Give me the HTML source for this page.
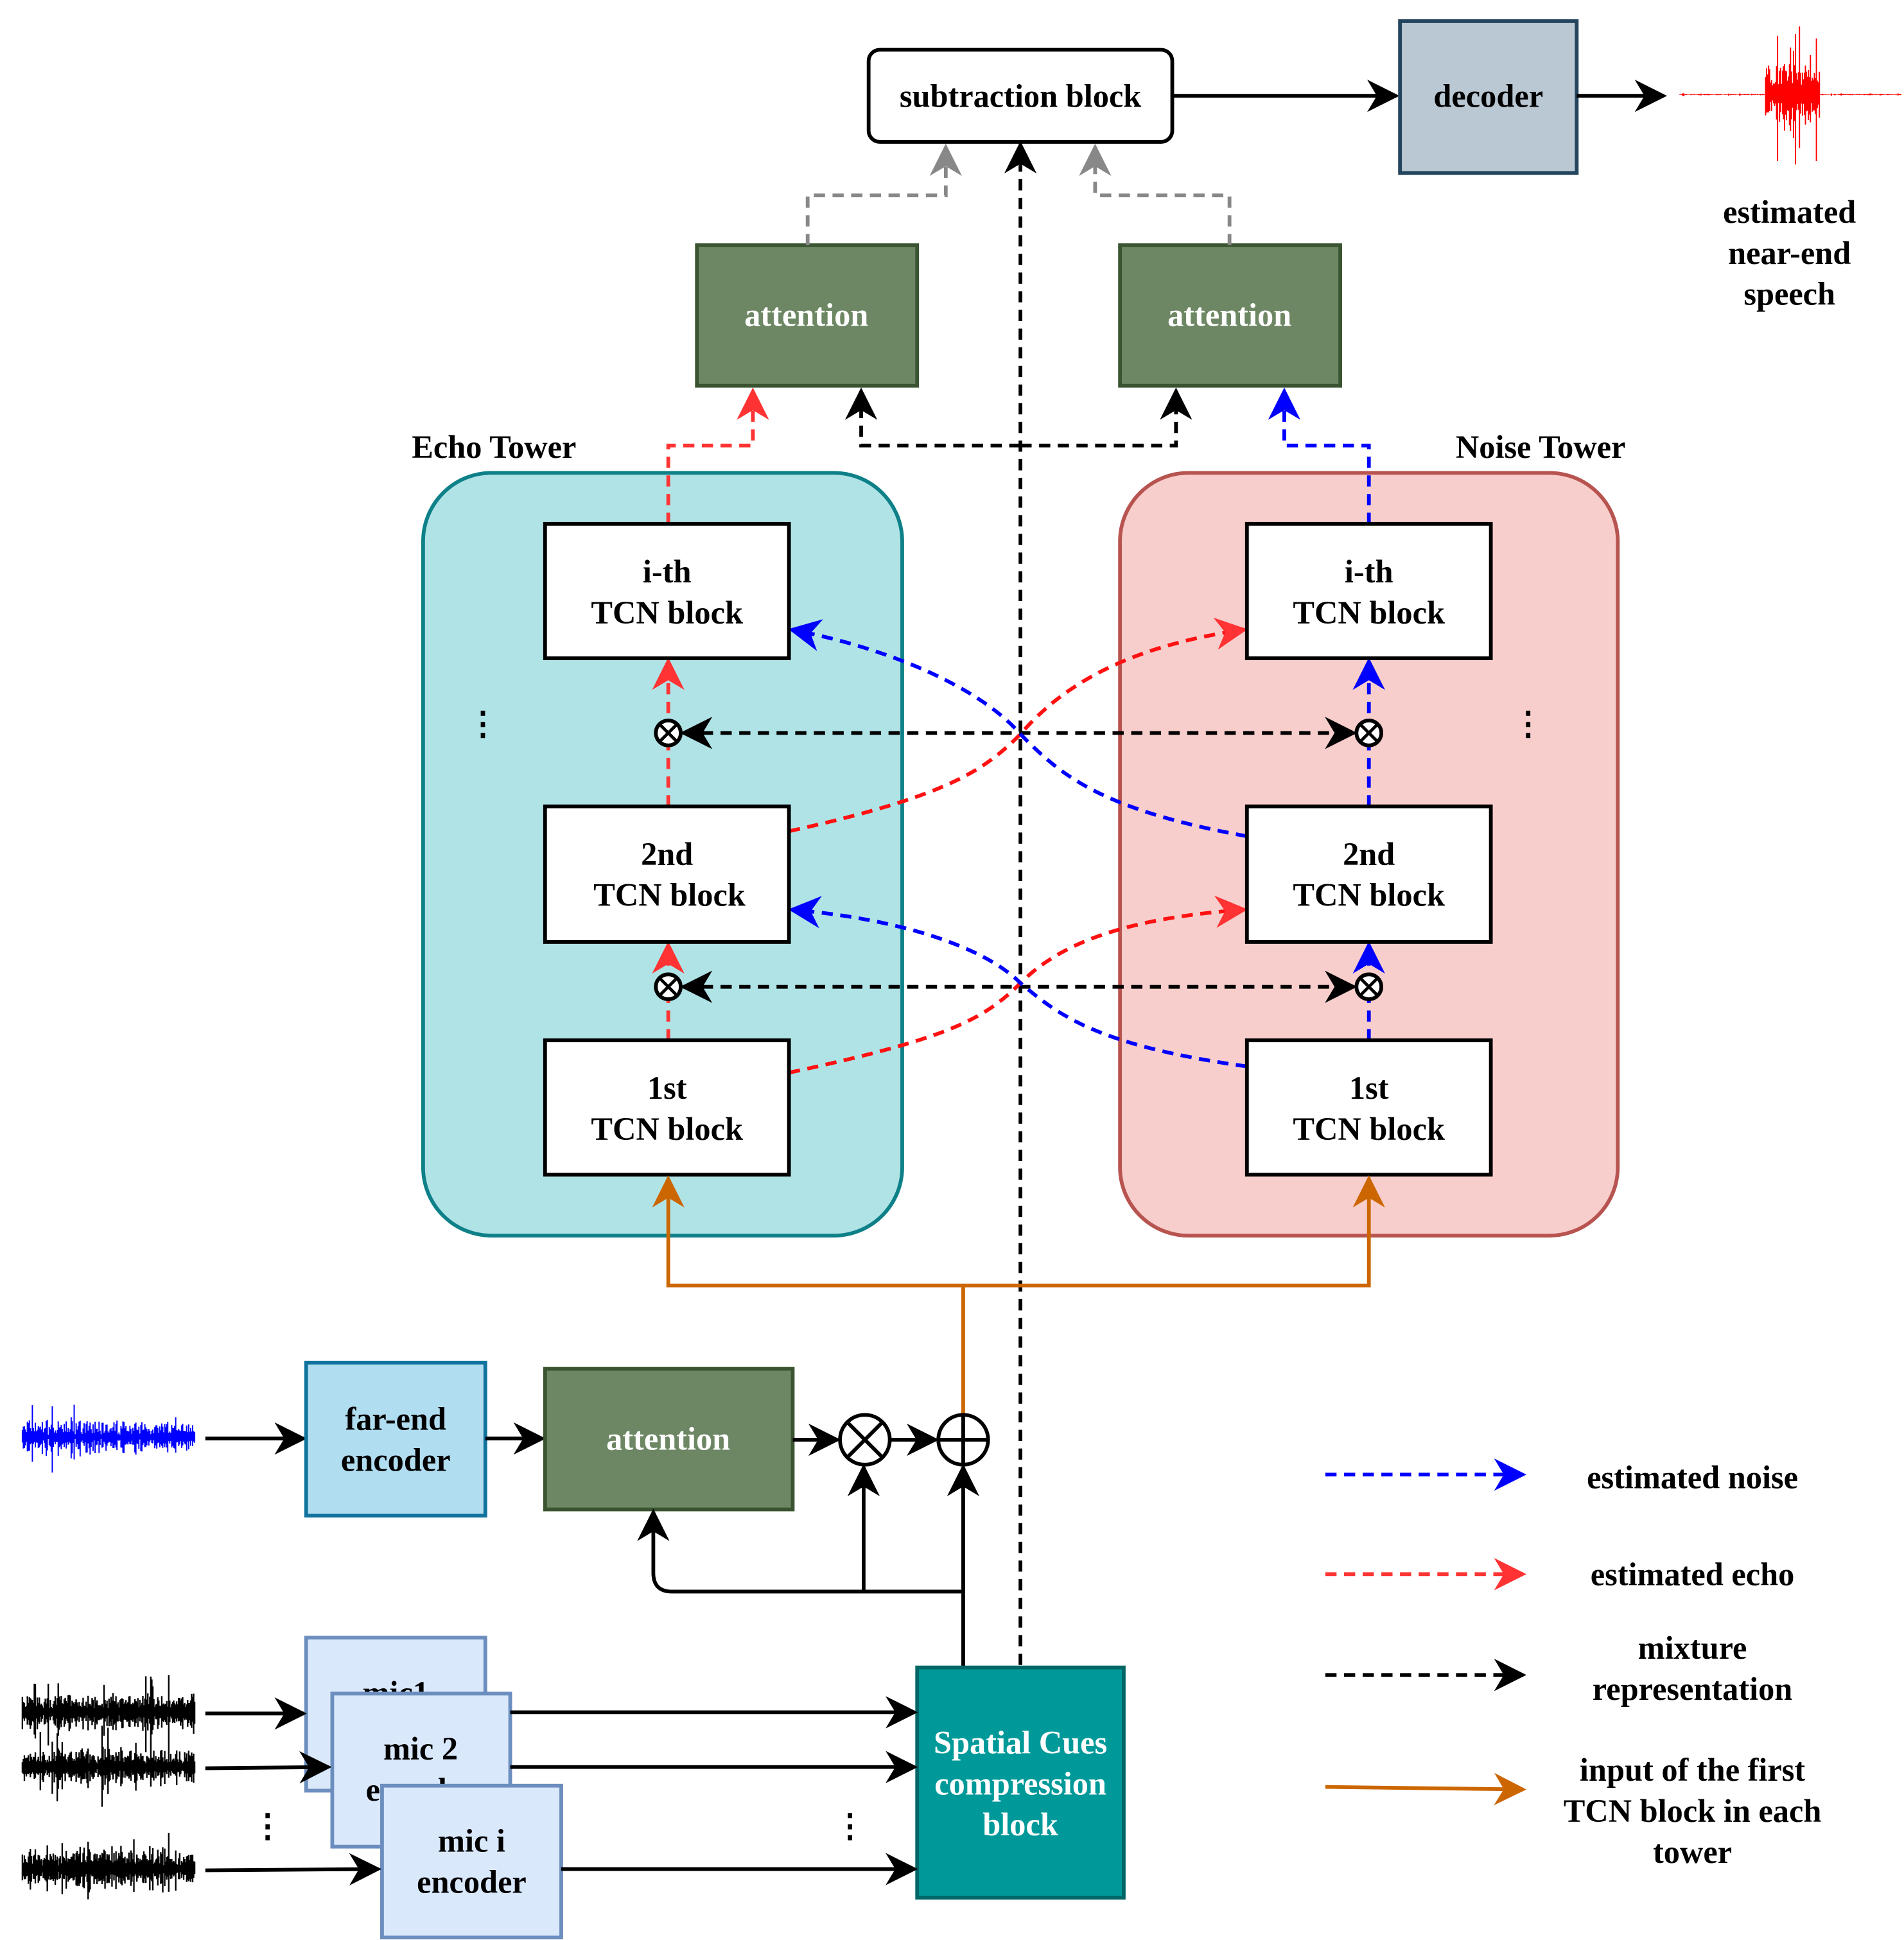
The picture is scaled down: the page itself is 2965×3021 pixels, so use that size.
<!DOCTYPE html>
<html><head><meta charset="utf-8"><style>
html,body{margin:0;padding:0;background:#fff}
svg{display:block}
text{font-family:"Liberation Serif",serif;font-weight:bold;font-size:26px;text-anchor:middle}
</style></head><body>
<svg id="s" width="2965" height="3021" viewBox="0 0 1530 1559" preserveAspectRatio="none" xmlns="http://www.w3.org/2000/svg">
<defs>
<marker id="a" viewBox="0 0 10 10" refX="9" refY="5" markerWidth="26" markerHeight="26" markerUnits="userSpaceOnUse" orient="auto-start-reverse"><path d="M0,0 L10,5 L0,10 L3,5z" fill="#000"/></marker>
<marker id="ar" viewBox="0 0 10 10" refX="9" refY="5" markerWidth="26" markerHeight="26" markerUnits="userSpaceOnUse" orient="auto-start-reverse"><path d="M0,0 L10,5 L0,10 L3,5z" fill="#ff3333"/></marker>
<marker id="ab" viewBox="0 0 10 10" refX="9" refY="5" markerWidth="26" markerHeight="26" markerUnits="userSpaceOnUse" orient="auto-start-reverse"><path d="M0,0 L10,5 L0,10 L3,5z" fill="#0000ff"/></marker>
<marker id="ag" viewBox="0 0 10 10" refX="9" refY="5" markerWidth="26" markerHeight="26" markerUnits="userSpaceOnUse" orient="auto-start-reverse"><path d="M0,0 L10,5 L0,10 L3,5z" fill="#888"/></marker>
<marker id="ao" viewBox="0 0 10 10" refX="9" refY="5" markerWidth="26" markerHeight="26" markerUnits="userSpaceOnUse" orient="auto-start-reverse"><path d="M0,0 L10,5 L0,10 L3,5z" fill="#cc6600"/></marker>
</defs>

<rect x="340" y="380" width="385" height="613" rx="55" fill="#b0e3e6" stroke="#0e8088" stroke-width="3"/>
<rect x="900" y="380" width="400" height="613" rx="55" fill="#f8cecc" stroke="#b85450" stroke-width="3"/>
<text x="397" y="368">Echo Tower</text>
<text x="1238" y="368">Noise Tower</text>
<text x="388" y="590">⋮</text>
<text x="1228" y="590">⋮</text>

<rect x="698" y="40" width="244" height="74" rx="9" fill="#fff" stroke="#000" stroke-width="3"/>
<text x="820" y="86">subtraction block</text>
<line x1="942" y1="77" x2="1122" y2="77" stroke="#000" stroke-width="3" marker-end="url(#a)"/>
<rect x="1125" y="17" width="142" height="122" fill="#bac8d3" stroke="#23445d" stroke-width="3"/>
<text x="1196" y="86">decoder</text>
<line x1="1267" y1="77" x2="1337" y2="77" stroke="#000" stroke-width="3" marker-end="url(#a)"/>
<g id="redwave"></g>
<text x="1438" y="179">estimated</text>
<text x="1438" y="212">near-end</text>
<text x="1438" y="245">speech</text>

<rect x="560" y="197" width="177" height="113" fill="#6d8764" stroke="#3a5431" stroke-width="3"/>
<text x="648" y="262" fill="#fff">attention</text>
<rect x="900" y="197" width="177" height="113" fill="#6d8764" stroke="#3a5431" stroke-width="3"/>
<text x="988" y="262" fill="#fff">attention</text>

<g fill="none" stroke-width="3" stroke-dasharray="9,6">
<path d="M649,197 V157 H760 V118" stroke="#888" marker-end="url(#ag)"/>
<path d="M988,197 V157 H880 V118" stroke="#888" marker-end="url(#ag)"/>
<path d="M820,1338 V116" stroke="#000" marker-end="url(#a)"/>
<path d="M820,358 H692 V314" stroke="#000" marker-end="url(#a)"/>
<path d="M820,358 H945 V314" stroke="#000" marker-end="url(#a)"/>
<path d="M537,421 V358 H605 V314" stroke="#ff3333" marker-end="url(#ar)"/>
<path d="M1100,421 V358 H1032 V314" stroke="#0000ff" marker-end="url(#ab)"/>
<path d="M537,648 V531" stroke="#ff3333" marker-end="url(#ar)"/>
<path d="M537,836 V759" stroke="#ff3333" marker-end="url(#ar)"/>
<path d="M1100,648 V531" stroke="#0000ff" marker-end="url(#ab)"/>
<path d="M1100,836 V759" stroke="#0000ff" marker-end="url(#ab)"/>
<path d="M549,589 H1088" stroke="#000" marker-start="url(#a)" marker-end="url(#a)"/>
<path d="M549,793 H1088" stroke="#000" marker-start="url(#a)" marker-end="url(#a)"/>
<path d="M634,862 C760,835 790,820 820,790 C850,760 900,738 1000,731" stroke="#ff1111" marker-end="url(#ar)"/>
<path d="M1002,857 C880,840 850,815 820,790 C790,760 720,738 636,731" stroke="#0000ff" marker-end="url(#ab)"/>
<path d="M634,668 C760,640 790,620 820,590 C850,555 900,520 1000,506" stroke="#ff1111" marker-end="url(#ar)"/>
<path d="M1002,672 C880,650 850,620 820,590 C790,555 720,522 636,506" stroke="#0000ff" marker-end="url(#ab)"/>
</g>

<g fill="#fff" stroke="#000" stroke-width="3">
<rect x="438" y="421" width="196" height="108"/><rect x="438" y="648" width="196" height="109"/><rect x="438" y="836" width="196" height="108"/>
<rect x="1002" y="421" width="196" height="108"/><rect x="1002" y="648" width="196" height="109"/><rect x="1002" y="836" width="196" height="108"/>
</g>
<text x="536" y="468">i-th</text><text x="536" y="501">TCN block</text>
<text x="536" y="695">2nd</text><text x="538" y="728">TCN block</text>
<text x="536" y="883">1st</text><text x="536" y="916">TCN block</text>
<text x="1100" y="468">i-th</text><text x="1100" y="501">TCN block</text>
<text x="1100" y="695">2nd</text><text x="1100" y="728">TCN block</text>
<text x="1100" y="883">1st</text><text x="1100" y="916">TCN block</text>

<g fill="#fff" stroke="#000" stroke-width="3">
<circle cx="537" cy="589" r="10"/><circle cx="1100" cy="589" r="10"/><circle cx="537" cy="793" r="10"/><circle cx="1100" cy="793" r="10"/>
</g>
<g stroke="#000" stroke-width="2.5">
<path d="M530,582 L544,596 M544,582 L530,596"/><path d="M1093,582 L1107,596 M1107,582 L1093,596"/>
<path d="M530,786 L544,800 M544,786 L530,800"/><path d="M1093,786 L1107,800 M1107,786 L1093,800"/>
</g>

<path d="M774,1136 V1033 H537 V947" fill="none" stroke="#cc6600" stroke-width="3" marker-end="url(#ao)"/>
<path d="M774,1033 H1100 V947" fill="none" stroke="#cc6600" stroke-width="3" marker-end="url(#ao)"/>

<g id="bluewave"></g>
<line x1="165" y1="1156" x2="244" y2="1156" stroke="#000" stroke-width="3" marker-end="url(#a)"/>
<rect x="246" y="1095" width="144" height="123" fill="#b1ddf0" stroke="#10739e" stroke-width="3"/>
<text x="318" y="1149">far-end</text><text x="318" y="1182">encoder</text>
<line x1="390" y1="1156" x2="436" y2="1156" stroke="#000" stroke-width="3" marker-end="url(#a)"/>
<rect x="438" y="1100" width="199" height="113" fill="#6d8764" stroke="#3a5431" stroke-width="3"/>
<text x="537" y="1165" fill="#fff">attention</text>
<line x1="637" y1="1157" x2="673" y2="1157" stroke="#000" stroke-width="3" marker-end="url(#a)"/>
<circle cx="695" cy="1157" r="20" fill="#fff" stroke="#000" stroke-width="3"/>
<path d="M681,1143 L709,1171 M709,1143 L681,1171" stroke="#000" stroke-width="3"/>
<line x1="716" y1="1157" x2="752" y2="1157" stroke="#000" stroke-width="3" marker-end="url(#a)"/>
<circle cx="774" cy="1157" r="20" fill="#fff" stroke="#000" stroke-width="3"/>
<path d="M754,1157 H794 M774,1137 V1177" stroke="#000" stroke-width="3"/>
<path d="M774,1340 V1179" fill="none" stroke="#000" stroke-width="3" marker-end="url(#a)"/>
<path d="M774,1279 H540 Q525,1279 525,1264 V1215" fill="none" stroke="#000" stroke-width="3" marker-end="url(#a)"/>
<path d="M694,1279 V1179" fill="none" stroke="#000" stroke-width="3" marker-end="url(#a)"/>

<rect x="737" y="1340" width="166" height="185" fill="#009999" stroke="#006666" stroke-width="3"/>
<text x="820" y="1409" fill="#fff">Spatial Cues</text>
<text x="820" y="1442" fill="#fff">compression</text>
<text x="820" y="1475" fill="#fff">block</text>

<g id="blackwave"></g>
<rect x="246" y="1316" width="144" height="123" fill="#dae8fc" stroke="#6c8ebf" stroke-width="3"/>
<text x="318" y="1369">mic1</text>
<line x1="165" y1="1377" x2="244" y2="1377" stroke="#000" stroke-width="3" marker-end="url(#a)"/>
<rect x="267" y="1361" width="143" height="123" fill="#dae8fc" stroke="#6c8ebf" stroke-width="3"/>
<text x="338" y="1414">mic 2</text><text x="338" y="1447">encoder</text>
<line x1="165" y1="1421" x2="264" y2="1420" stroke="#000" stroke-width="3" marker-end="url(#a)"/>
<rect x="307" y="1435" width="144" height="122" fill="#dae8fc" stroke="#6c8ebf" stroke-width="3"/>
<text x="379" y="1488">mic i</text><text x="379" y="1521">encoder</text>
<line x1="165" y1="1503" x2="304" y2="1502" stroke="#000" stroke-width="3" marker-end="url(#a)"/>
<line x1="410" y1="1376" x2="735" y2="1376" stroke="#000" stroke-width="3" marker-end="url(#a)"/>
<line x1="410" y1="1420" x2="735" y2="1420" stroke="#000" stroke-width="3" marker-end="url(#a)"/>
<line x1="451" y1="1502" x2="735" y2="1502" stroke="#000" stroke-width="3" marker-end="url(#a)"/>
<text x="215" y="1476">⋮</text><text x="683" y="1476">⋮</text>

<g stroke-width="3" fill="none">
<line x1="1065" y1="1185" x2="1224" y2="1185" stroke="#0000ff" stroke-dasharray="9,6" marker-end="url(#ab)"/>
<line x1="1065" y1="1265" x2="1224" y2="1265" stroke="#ff3333" stroke-dasharray="9,6" marker-end="url(#ar)"/>
<line x1="1065" y1="1346" x2="1224" y2="1346" stroke="#000" stroke-dasharray="9,6" marker-end="url(#a)"/>
<line x1="1065" y1="1436" x2="1224" y2="1438" stroke="#cc6600" marker-end="url(#ao)"/>
</g>
<text x="1360" y="1196">estimated noise</text>
<text x="1360" y="1274">estimated echo</text>
<text x="1360" y="1333">mixture</text><text x="1360" y="1366">representation</text>
<text x="1360" y="1431">input of the first</text><text x="1360" y="1464">TCN block in each</text><text x="1360" y="1497">tower</text>

<script>
(function(){
var seed=7;function r(){seed=(seed*16807)%2147483647;return seed/2147483647;}
function wave(id,x0,x1,cy,amp,color,w,env){
 var d="";for(var x=x0;x<=x1;x+=0.8){var e=env(x);var a=amp*e*(0.25+0.6*r());if(r()<0.08)a*=2.2;d+="M"+x.toFixed(1)+","+(cy-a).toFixed(1)+"V"+(cy+a*(0.6+0.6*r())).toFixed(1);}
 var p=document.createElementNS("http://www.w3.org/2000/svg","path");p.setAttribute("d",d);p.setAttribute("stroke",color);p.setAttribute("stroke-width",w);
 document.getElementById(id).appendChild(p);}
wave("bluewave",18,157,1155,18,"#0000ff",1,function(x){return 0.4+0.6*r();});
wave("blackwave",18,157,1376,20,"#000",1.2,function(x){return 0.5+0.5*r();});
wave("blackwave",18,157,1420,20,"#000",1.2,function(x){return 0.5+0.5*r();});
wave("blackwave",18,157,1502,22,"#000",1.2,function(x){return 0.5+0.5*r();});
wave("redwave",1350,1528,76,30,"#ff0000",1,function(x){return (x>1418&&x<1462)?1:0.02;});
})();
</script>
</svg>
</body></html>
